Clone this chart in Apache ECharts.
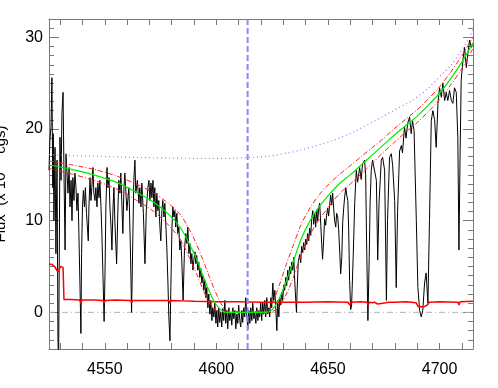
<!DOCTYPE html>
<html>
<head>
<meta charset="utf-8">
<script src="https://cdn.jsdelivr.net/npm/echarts@6/dist/echarts.min.js"></script>
<style>
  html, body { margin: 0; padding: 0; background: #fff; }
  #chart { width: 498px; height: 388px; }
</style>
</head>
<body>
<div id="chart"></div>
<script>
  // tick positions (Angstrom / flux)
  const xTicks = [4530, 4540, 4550, 4560, 4570, 4580, 4590, 4600, 4610, 4620, 4630, 4640, 4650, 4660, 4670, 4680, 4690, 4700, 4710];
  const xLabels = [4550, 4600, 4650, 4700];
  const yLabels = [0, 10, 20, 30];

  const lineCenter = 4614;

  // observed spectrum [wavelength, flux]
  const spectrum = [
    [4525.0, 15.5], [4525.4, 18.8], [4525.9, 20.2], [4526.3, 25.6], [4526.7, 13.6], [4526.9, 19.5],
    [4527.2, 10.0], [4527.7, 18.0], [4528.1, 6.4], [4528.6, 16.6], [4529.0, -2.7], [4529.3, -6.0],
    [4529.7, 10.0], [4529.9, 19.1], [4530.4, 14.4], [4530.8, 21.7], [4531.3, 24.0], [4531.7, 15.5],
    [4532.2, 6.8], [4532.6, 17.3], [4533.1, 15.2], [4533.5, 13.0], [4534.0, 15.8], [4534.4, 11.5],
    [4534.9, 14.4], [4535.3, 10.0], [4535.7, 14.7], [4536.2, 12.2], [4536.6, 15.2], [4537.1, 13.6],
    [4537.5, 11.1], [4538.0, 13.0], [4538.4, 8.6], [4538.9, 2.7], [4539.3, -2.3], [4539.6, 6.4],
    [4540.0, 11.5], [4540.4, 13.3], [4540.9, 11.5], [4541.3, 13.6], [4541.8, 10.8], [4542.2, 9.3],
    [4542.6, 7.8], [4542.9, 11.5], [4543.4, 14.7], [4543.8, 12.2], [4544.2, 13.6], [4544.7, 15.8],
    [4545.1, 13.0], [4545.6, 12.2], [4546.0, 13.6], [4546.5, 11.5], [4546.9, 14.1], [4547.4, 12.5],
    [4547.8, 14.4], [4548.3, 11.5], [4548.7, 8.6], [4549.2, 3.8], [4549.7, -1.0], [4550.1, 4.3],
    [4550.5, 11.5], [4551.0, 15.8], [4551.4, 13.6], [4551.9, 14.7], [4552.3, 11.5], [4552.8, 9.3],
    [4553.2, 6.8], [4553.7, 11.5], [4554.1, 13.6], [4554.5, 10.0], [4555.3, 5.3], [4555.9, 11.5],
    [4556.3, 14.4], [4556.8, 13.0], [4557.2, 15.2], [4557.7, 11.5], [4558.1, 8.6], [4558.6, 13.6],
    [4559.0, 15.2], [4559.9, 11.1], [4560.8, 13.6], [4561.5, 6.8], [4562.0, 0.0], [4562.6, 8.6],
    [4563.0, 14.4], [4563.5, 16.6], [4563.9, 13.0], [4564.6, 14.4], [4565.3, 11.9], [4565.7, 13.6],
    [4566.2, 11.5], [4566.6, 14.1], [4567.3, 10.8], [4568.0, 5.3], [4568.6, 11.1], [4569.3, 13.6],
    [4569.8, 14.4], [4570.2, 12.2], [4570.7, 14.1], [4571.1, 12.5], [4571.6, 14.4], [4572.0, 11.5],
    [4572.4, 13.6], [4572.9, 10.4], [4573.3, 13.0], [4573.8, 11.1], [4574.2, 12.2], [4574.7, 9.3],
    [4575.1, 7.8], [4575.6, 11.1], [4576.0, 12.2], [4576.5, 10.4], [4576.9, 11.9], [4577.4, 9.3],
    [4577.8, 7.1], [4578.3, 3.2], [4578.7, -0.5], [4579.2, -3.1], [4579.6, 2.7], [4580.1, 9.3],
    [4580.5, 11.5], [4581.0, 10.4], [4581.4, 11.1], [4581.8, 9.3], [4582.3, 10.8], [4582.7, 8.6],
    [4583.2, 9.3], [4583.6, 6.8], [4584.1, 7.8], [4584.5, 5.7], [4585.1, 1.3], [4585.7, 6.8],
    [4586.3, 8.6], [4586.8, 7.5], [4587.2, 9.3], [4587.7, 6.4], [4588.1, 7.5], [4588.6, 5.3],
    [4589.0, 6.4], [4589.5, 4.6], [4589.9, 5.7], [4590.4, 6.6], [4590.8, 5.3], [4591.2, 6.2],
    [4591.7, 4.6], [4592.1, 5.5], [4592.6, 3.8], [4593.0, 4.8], [4593.5, 3.2], [4593.9, 4.0],
    [4594.4, 2.4], [4594.8, 3.5], [4595.3, 1.6], [4595.7, 2.7], [4596.2, 0.5], [4596.6, 2.0],
    [4597.1, -0.2], [4597.5, 1.3], [4598.0, -0.9], [4598.4, 0.5], [4598.9, -0.5], [4599.3, 1.0],
    [4599.8, -1.2], [4600.2, 0.2], [4600.6, -1.6], [4601.1, 0.5], [4601.5, -1.1], [4602.0, 0.0],
    [4602.4, -1.6], [4602.9, 0.4], [4603.3, -0.9], [4603.8, 1.3], [4604.2, -1.2], [4604.7, 0.2],
    [4605.1, -1.8], [4605.6, 0.5], [4606.0, -0.9], [4606.5, 0.0], [4606.9, -1.4], [4607.4, 0.5],
    [4607.8, -0.7], [4608.3, 0.2], [4608.7, -1.8], [4609.2, -0.2], [4609.6, -1.2], [4610.0, 0.8],
    [4610.5, -0.9], [4610.9, -1.6], [4611.4, 0.2], [4611.8, -1.1], [4612.3, 0.5], [4612.7, -0.5],
    [4613.2, 1.6], [4613.6, -0.2], [4614.1, -1.8], [4614.5, 0.2], [4615.0, -1.2], [4615.4, 0.5],
    [4615.9, -0.9], [4616.3, 1.0], [4616.8, -0.7], [4617.2, 0.0], [4617.7, -1.2], [4618.1, 0.5],
    [4618.6, -0.9], [4619.0, 0.2], [4619.4, -0.5], [4619.9, 1.0], [4620.3, -0.9], [4620.8, 1.1],
    [4621.2, -0.2], [4621.7, 1.3], [4622.1, -0.5], [4622.6, 1.6], [4623.0, -0.2], [4623.5, 0.5],
    [4623.9, -0.5], [4624.4, 1.6], [4624.8, 0.5], [4625.3, 3.2], [4625.7, 1.3], [4626.2, 2.4],
    [4626.6, 0.5], [4627.1, -2.0], [4627.5, 1.3], [4628.0, -0.5], [4628.4, 1.6], [4628.8, 0.8],
    [4629.3, 2.2], [4629.7, 1.3], [4630.2, 3.0], [4630.6, 2.4], [4631.1, 3.8], [4631.5, 2.9],
    [4632.0, 4.6], [4632.4, 3.5], [4632.9, 5.0], [4633.3, 4.2], [4633.8, 5.5], [4634.2, 4.6],
    [4634.7, 6.0], [4635.1, 3.5], [4635.6, 1.2], [4635.9, 0.0], [4636.2, 2.5], [4636.7, 5.5],
    [4637.3, 6.3], [4637.8, 5.4], [4638.2, 7.2], [4638.7, 6.5], [4639.1, 7.6], [4639.6, 6.8],
    [4640.0, 8.0], [4640.5, 7.4], [4640.9, 8.6], [4641.4, 7.8], [4641.8, 9.2], [4642.3, 8.4],
    [4642.7, 10.2], [4643.2, 11.1], [4643.6, 9.6], [4644.1, 10.8], [4644.5, 9.3], [4645.0, 11.2],
    [4645.4, 10.0], [4645.9, 11.5], [4646.3, 11.9], [4646.8, 9.5], [4647.2, 7.5], [4647.6, 5.8],
    [4648.1, 8.0], [4648.5, 10.2], [4649.0, 9.5], [4649.4, 10.6], [4649.9, 11.4], [4650.3, 10.5],
    [4650.8, 11.8], [4651.2, 12.8], [4651.7, 11.7], [4652.1, 13.0], [4652.6, 11.2], [4653.0, 10.0],
    [4653.5, 9.3], [4653.9, 10.8], [4654.4, 10.4], [4654.8, 9.0], [4655.3, 6.5], [4655.7, 4.2],
    [4656.2, 6.0], [4656.6, 9.8], [4657.1, 11.5], [4657.5, 12.6], [4658.0, 13.6], [4658.4, 12.8],
    [4658.9, 12.2], [4659.3, 9.0], [4659.7, 3.5], [4660.2, 0.3], [4660.6, 0.8], [4661.3, 6.0],
    [4662.0, 12.0], [4662.7, 15.5], [4663.3, 14.2], [4664.2, 15.8], [4664.9, 14.5], [4665.5, 16.2],
    [4666.4, 16.6], [4666.9, 15.0], [4667.3, 8.0], [4667.9, -0.9], [4668.5, 6.0], [4668.9, 12.0],
    [4669.4, 15.5], [4670.0, 16.6], [4670.7, 16.4], [4671.7, 14.4], [4672.3, 5.7], [4672.9, 12.0],
    [4673.9, 16.6], [4674.5, 16.9], [4675.4, 15.5], [4676.2, 1.3], [4676.7, 10.0], [4677.6, 16.9],
    [4678.4, 17.3], [4679.0, 16.0], [4679.9, 12.2], [4680.6, 2.7], [4681.2, 11.0], [4682.1, 17.6],
    [4682.9, 18.2], [4683.4, 17.4], [4684.3, 20.2], [4685.0, 19.0], [4685.7, 20.6], [4686.6, 21.3],
    [4687.3, 19.5], [4687.9, 20.9], [4688.6, 19.8], [4689.6, 10.0], [4690.3, 2.7], [4691.1, 0.2],
    [4691.8, -0.5], [4692.5, 0.2], [4693.3, 3.2], [4694.0, 4.3], [4694.8, 1.0], [4695.5, 10.0],
    [4696.3, 20.9], [4697.0, 22.0], [4697.8, 21.0], [4698.5, 18.0], [4699.3, 22.8], [4700.0, 24.5],
    [4700.8, 23.5], [4701.5, 25.0], [4702.3, 23.1], [4703.0, 24.0], [4703.7, 23.1], [4704.5, 24.2],
    [4705.3, 23.1], [4706.0, 22.8], [4706.7, 24.5], [4707.5, 24.0], [4708.2, 19.1], [4708.7, 6.8],
    [4709.2, 17.0], [4709.7, 25.3], [4710.5, 27.5], [4711.2, 28.9], [4712.0, 26.7], [4712.7, 28.2],
    [4713.5, 29.7], [4714.2, 28.9], [4714.8, 29.3]
  ];

  // error spectrum
  const errWave = [4525, 4526.5, 4527.5, 4528.3, 4529.0, 4529.6, 4530.2, 4530.8, 4531.3, 4531.6, 4531.7, 4535, 4538.8, 4539.3, 4539.8, 4545, 4549.2, 4549.7, 4550.2, 4555, 4561.5, 4562, 4562.5, 4570, 4578.7, 4579.2, 4579.7, 4585, 4590, 4600, 4610, 4620, 4630, 4640, 4650, 4659, 4659.8, 4660.5, 4665, 4667.5, 4668, 4668.7, 4670, 4670.5, 4671, 4672.3, 4673, 4676, 4676.5, 4677, 4680, 4685, 4689.5, 4690.5, 4693, 4694.5, 4695.5, 4700, 4708.3, 4708.7, 4709.2, 4715];
  const errFlux = [5.3, 5.2, 5.0, 4.9, 4.4, 4.6, 5.0, 4.8, 4.9, 4.7, 1.4, 1.4, 1.35, 1.0, 1.35, 1.35, 1.3, 1.0, 1.3, 1.35, 1.3, 1.05, 1.3, 1.3, 1.3, 1.0, 1.3, 1.25, 1.2, 1.15, 1.15, 1.1, 1.1, 1.1, 1.15, 1.1, 0.8, 1.1, 1.15, 1.1, 0.8, 1.1, 1.05, 0.85, 1.1, 0.9, 1.1, 1.05, 0.85, 1.1, 1.1, 1.15, 1.05, 0.6, 0.6, 0.8, 1.1, 1.15, 1.1, 0.8, 1.15, 1.2];

  // model profile and its upper / lower bounds
  const modelWave = [4525, 4535, 4545, 4555, 4565, 4572, 4579, 4584, 4588, 4591, 4594, 4597, 4600, 4603, 4606, 4622, 4625, 4628, 4631, 4634, 4638, 4642, 4646, 4650, 4655, 4660, 4665, 4670, 4675, 4680, 4685, 4690, 4695, 4700, 4705, 4710, 4715];
  const modelFit = [16.1, 15.6, 15.0, 14.2, 13.0, 12.0, 10.6, 9.2, 7.4, 5.9, 4.0, 2.2, 0.8, 0.1, 0, 0, 0.3, 1.4, 3.2, 5.2, 8.0, 10.0, 11.5, 12.7, 14.0, 15.0, 16.1, 17.2, 18.3, 19.4, 20.4, 21.4, 22.6, 23.9, 25.5, 27.3, 29.4];
  const modelUpper = [16.5, 16.1, 15.6, 14.9, 13.9, 13.0, 11.8, 10.6, 9.0, 7.5, 5.7, 3.8, 2.0, 0.6, 0.1, 0.1, 1.0, 2.8, 5.0, 7.0, 9.6, 11.4, 12.8, 13.9, 15.0, 16.0, 17.0, 18.0, 19.0, 20.1, 21.1, 22.1, 23.3, 24.6, 26.2, 28.0, 30.0];
  const modelLower = [15.7, 15.1, 14.4, 13.5, 12.1, 11.0, 9.4, 7.9, 5.9, 4.3, 2.5, 1.0, 0.2, 0, 0, 0, 0.1, 0.5, 1.8, 3.5, 6.3, 8.5, 10.1, 11.4, 12.9, 14.0, 15.1, 16.3, 17.5, 18.6, 19.7, 20.7, 21.9, 23.2, 24.8, 26.6, 28.8];

  // continuum (dotted)
  const contWave = [4525, 4550, 4575, 4600, 4615, 4630, 4645, 4657, 4668, 4680, 4690, 4700, 4708, 4715];
  const contFlux = [17.2, 17.0, 16.85, 16.8, 16.9, 17.3, 18.2, 19.2, 20.5, 22.1, 23.5, 25.7, 27.9, 30.8];

  const zip = (xs, ys) => xs.map((x, i) => [x, ys[i]]);

  const chart = echarts.init(document.getElementById('chart'));

  const frameColor = '#7a7a7a';
  const fontFamily = '"Liberation Sans", Arial, sans-serif';

  const xBase = {
    type: 'value',
    min: 4525,
    max: 4715,
    gridIndex: 0,
    splitLine: { show: false },
    axisLine: { show: true, onZero: false, lineStyle: { color: frameColor, width: 1 } },
    axisTick: { show: true, inside: true, length: 6, customValues: xTicks, lineStyle: { color: frameColor } },
  };
  const yBase = {
    type: 'value',
    min: -4,
    max: 32,
    gridIndex: 0,
    splitLine: { show: false },
  };

  chart.setOption({
    animation: false,
    backgroundColor: '#fff',
    grid: { left: 49, right: 25, top: 19, bottom: 39, containLabel: false, outerBoundsMode: 'none' },
    xAxis: [
      {
        ...xBase,
        position: 'bottom',
        axisLabel: {
          customValues: xLabels,
          formatter: (v) => String(v),
          color: '#000',
          fontSize: 16,
          fontFamily: fontFamily,
          margin: 13,
        },
      },
      {
        ...xBase,
        position: 'top',
        axisLabel: { show: false },
      },
    ],
    yAxis: [
      {
        ...yBase,
        position: 'left',
        axisLine: { show: true, lineStyle: { color: frameColor, width: 1 } },
        axisTick: { show: true, inside: true, length: 10, customValues: yLabels, lineStyle: { color: frameColor } },
        axisLabel: { customValues: yLabels, color: '#000', fontSize: 16, fontFamily: fontFamily, margin: 6 },
        name: 'Flux  (x 10{sup|-15} cgs)',
        nameLocation: 'middle',
        nameGap: 39,
        nameTextStyle: {
          color: '#000',
          fontSize: 15,
          fontFamily: fontFamily,
          rich: { sup: { fontSize: 10, verticalAlign: 'top', color: '#000', padding: [0, 0, 8, 0] } },
        },
      },
      {
        ...yBase,
        position: 'left',
        interval: 1,
        axisLine: { show: false },
        axisTick: { show: true, inside: true, length: 5, lineStyle: { color: frameColor } },
        axisLabel: { show: false },
      },
      {
        ...yBase,
        position: 'right',
        axisLine: { show: true, lineStyle: { color: frameColor, width: 1 } },
        axisTick: { show: true, inside: true, length: 10, customValues: yLabels, lineStyle: { color: frameColor } },
        axisLabel: { show: false },
      },
      {
        ...yBase,
        position: 'right',
        interval: 1,
        axisLine: { show: false },
        axisTick: { show: true, inside: true, length: 5, lineStyle: { color: frameColor } },
        axisLabel: { show: false },
      },
    ],
    series: [
      {
        name: 'zero',
        type: 'line',
        data: [[4525, 0], [4715, 0]],
        showSymbol: false,
        silent: true,
        lineStyle: { color: '#b0b0b0', width: 1, type: [6, 3, 1, 3] },
      },
      {
        name: 'observed',
        type: 'line',
        data: spectrum,
        showSymbol: false,
        lineStyle: { color: '#000', width: 1 },
      },
      {
        name: 'error',
        type: 'line',
        data: zip(errWave, errFlux),
        showSymbol: false,
        lineStyle: { color: '#ff0000', width: 1.5 },
      },
      {
        name: 'continuum',
        type: 'line',
        data: zip(contWave, contFlux),
        smooth: true,
        showSymbol: false,
        lineStyle: { color: '#bb66ff', width: 1.2, type: [1, 3] },
      },
      {
        name: 'upper',
        type: 'line',
        data: zip(modelWave, modelUpper),
        smooth: 0.3,
        showSymbol: false,
        lineStyle: { color: '#ff2020', width: 1, type: [5, 2, 1, 2] },
      },
      {
        name: 'lower',
        type: 'line',
        data: zip(modelWave, modelLower),
        smooth: 0.3,
        showSymbol: false,
        lineStyle: { color: '#ff2020', width: 1, type: [5, 2, 1, 2] },
      },
      {
        name: 'model',
        type: 'line',
        data: zip(modelWave, modelFit),
        smooth: 0.3,
        showSymbol: false,
        lineStyle: { color: '#00ee00', width: 1.2 },
      },
      {
        name: 'center',
        type: 'line',
        data: [[lineCenter, -4], [lineCenter, 32]],
        showSymbol: false,
        lineStyle: { color: '#8888ff', width: 2, type: [6, 3] },
      },
    ],
  });
</script>
</body>
</html>
